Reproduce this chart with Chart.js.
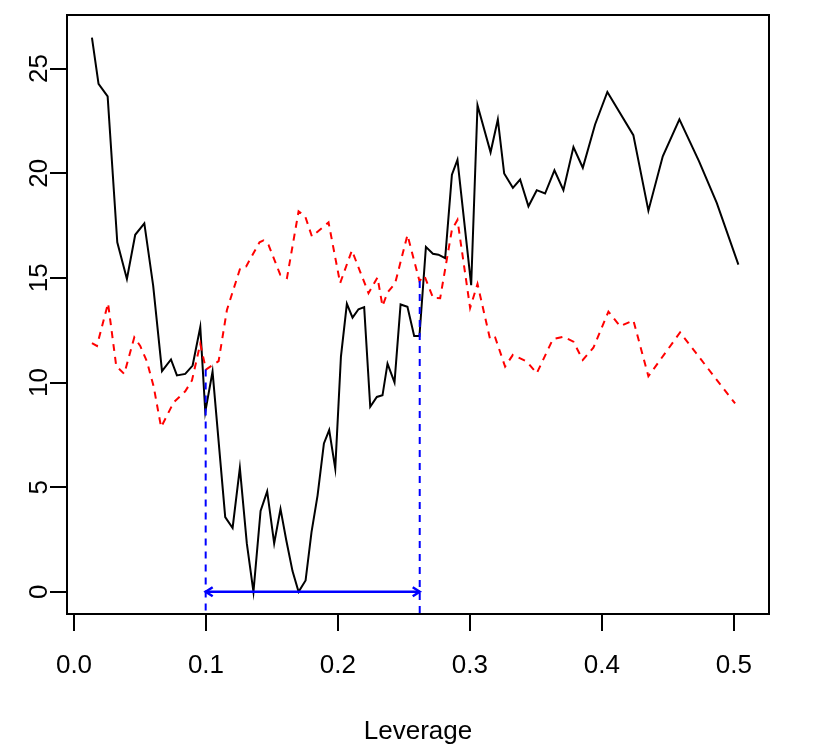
<!DOCTYPE html>
<html>
<head>
<meta charset="utf-8">
<script src="https://cdn.jsdelivr.net/npm/chart.js@4.4.0/dist/chart.umd.min.js"></script>
<style>
  html, body { margin: 0; padding: 0; background: #fff; }
  #myChart { display: block; }
</style>
</head>
<body>
<canvas id="myChart" width="830" height="747"></canvas>
<script>
// values
const blackX = [0.0136, 0.0186, 0.0255, 0.0328, 0.0401, 0.0464, 0.0533, 0.0600, 0.0667, 0.0735,
  0.0780, 0.0843, 0.0899, 0.0957, 0.0995, 0.1050, 0.1146, 0.1202, 0.1257, 0.1310,
  0.1360, 0.1414, 0.1464, 0.1517, 0.1565, 0.1608, 0.1656, 0.1702, 0.1755, 0.1800,
  0.1846, 0.1894, 0.1934, 0.1980, 0.2023, 0.2068, 0.2111, 0.2156, 0.2199, 0.2245,
  0.2295, 0.2338, 0.2376, 0.2429, 0.2475, 0.2527, 0.2578, 0.2618, 0.2667, 0.2720,
  0.2762, 0.2813, 0.2864, 0.2906, 0.3010, 0.3058, 0.3157, 0.3212, 0.3260, 0.3326,
  0.3381, 0.3444, 0.3507, 0.3570, 0.3641, 0.3709, 0.3785, 0.3856, 0.3949, 0.4042,
  0.4239, 0.4353, 0.4462, 0.4588, 0.4737, 0.4871, 0.5035];
const blackY = [26.48, 24.27, 23.67, 16.70, 14.95, 17.06, 17.60, 14.63, 10.54, 11.10,
  10.34, 10.41, 10.81, 12.65, 8.60, 10.52, 3.57, 3.05, 5.92, 2.30,
  0.00, 3.86, 4.80, 2.31, 3.96, 2.49, 0.99, 0.00, 0.54, 2.85,
  4.61, 7.09, 7.73, 5.89, 11.24, 13.76, 13.10, 13.50, 13.60, 8.84,
  9.31, 9.39, 10.90, 10.01, 13.73, 13.62, 12.22, 12.22, 16.48, 16.15,
  16.11, 15.94, 19.93, 20.64, 14.65, 23.25, 21.00, 22.57, 19.99, 19.30,
  19.70, 18.42, 19.19, 19.03, 20.14, 19.19, 21.25, 20.26, 22.33, 23.88,
  21.82, 18.21, 20.81, 22.57, 20.57, 18.58, 15.63];

const redX = [0.0136, 0.0174, 0.0258, 0.0320, 0.0381, 0.0457, 0.0502, 0.0553, 0.0604, 0.0660,
  0.0755, 0.0843, 0.0894, 0.0957, 0.1000, 0.1096, 0.1159, 0.1260, 0.1305, 0.1406,
  0.1436, 0.1474, 0.1563, 0.1614, 0.1702, 0.1752, 0.1803, 0.1929, 0.2017, 0.2106,
  0.2232, 0.2300, 0.2338, 0.2376, 0.2434, 0.2527, 0.2618, 0.2655, 0.2722, 0.2775,
  0.2864, 0.2906, 0.3002, 0.3058, 0.3154, 0.3192, 0.3267, 0.3326, 0.3432, 0.3507,
  0.3629, 0.3709, 0.3785, 0.3856, 0.3936, 0.4050, 0.4139, 0.4239, 0.4353, 0.4593,
  0.5010];
const redY = [11.88, 11.75, 13.79, 10.79, 10.41, 12.16, 11.75, 11.00, 9.80, 7.87,
  9.05, 9.58, 10.10, 11.85, 10.62, 11.02, 13.47, 15.47, 15.55, 16.70,
  16.79, 16.58, 15.15, 14.99, 18.18, 17.94, 16.98, 17.65, 14.75, 16.31,
  14.27, 15.02, 13.65, 14.30, 14.75, 17.05, 14.85, 15.10, 14.04, 14.03,
  17.30, 17.77, 13.56, 14.71, 12.05, 12.15, 10.76, 11.32, 11.00, 10.44,
  12.07, 12.19, 11.95, 11.08, 11.66, 13.39, 12.69, 12.97, 10.30, 12.39,
  9.00];

const bracketX = [0.0998, 0.262];
const bracketTop = [10.62, 14.85];

const xTicks = [0, 0.1, 0.2, 0.3, 0.4, 0.5];
const yTicks = [0, 5, 10, 15, 20, 25];

const xMin = -0.0053, xMax = 0.5267;
const yMin = -1.06, yMax = 27.56;

const FONT = '"Liberation Sans", Arial, Helvetica, sans-serif';

function toPoints(xs, ys) {
  return xs.map((x, i) => ({ x: x, y: ys[i] }));
}

// R style box, rotated y labels and arrow heads
const rStyle = {
  id: 'rStyle',
  afterDatasetsDraw(chart) {
    const ctx = chart.ctx;
    const a = chart.chartArea;
    const xs = chart.scales.x, ys = chart.scales.y;
    ctx.save();
    ctx.strokeStyle = '#000';
    ctx.lineWidth = 2;
    ctx.strokeRect(a.left, a.top, a.right - a.left, a.bottom - a.top);

    // arrow heads
    const y0 = ys.getPixelForValue(0);
    const xl = xs.getPixelForValue(bracketX[0]);
    const xr = xs.getPixelForValue(bracketX[1]);
    ctx.strokeStyle = '#0000ff';
    ctx.lineWidth = 2.5;
    ctx.beginPath();
    ctx.moveTo(xl + 7, y0 - 4.5); ctx.lineTo(xl, y0); ctx.lineTo(xl + 7, y0 + 4.5);
    ctx.moveTo(xr - 7, y0 - 4.5); ctx.lineTo(xr, y0); ctx.lineTo(xr - 7, y0 + 4.5);
    ctx.stroke();

    // y labels, rotated like R
    ctx.fillStyle = '#000';
    ctx.font = '26px ' + FONT;
    ctx.textAlign = 'center';
    ctx.textBaseline = 'middle';
    yTicks.forEach(v => {
      const py = ys.getPixelForValue(v);
      ctx.save();
      ctx.translate(40, py);
      ctx.rotate(-Math.PI / 2);
      ctx.fillText(String(v), 0, 0);
      ctx.restore();
    });
    ctx.restore();
  }
};

const ctx = document.querySelector('#myChart');
new Chart(ctx, {
  type: 'line',
  data: {
    datasets: [
      {
        data: toPoints(blackX, blackY),
        borderColor: '#000000',
        borderWidth: 2,
        pointRadius: 0,
        order: 3
      },
      {
        data: toPoints(redX, redY),
        borderColor: '#ff0000',
        borderWidth: 2,
        borderDash: [7, 6],
        pointRadius: 0,
        order: 2
      },
      {
        data: [{ x: bracketX[0], y: bracketTop[0] }, { x: bracketX[0], y: yMin }],
        borderColor: '#0000ff',
        borderWidth: 2,
        borderDash: [7, 6],
        pointRadius: 0,
        order: 1
      },
      {
        data: [{ x: bracketX[1], y: bracketTop[1] }, { x: bracketX[1], y: yMin }],
        borderColor: '#0000ff',
        borderWidth: 2,
        borderDash: [7, 6],
        pointRadius: 0,
        order: 1
      },
      {
        data: [{ x: bracketX[0], y: 0 }, { x: bracketX[1], y: 0 }],
        borderColor: '#0000ff',
        borderWidth: 2.5,
        pointRadius: 0,
        order: 0
      }
    ]
  },
  options: {
    responsive: false,
    animation: false,
    layout: { padding: { top: 15, right: 61, left: 0, bottom: 0 } },
    plugins: { legend: { display: false }, tooltip: { enabled: false } },
    scales: {
      x: {
        type: 'linear',
        min: xMin,
        max: xMax,
        afterBuildTicks: s => { s.ticks = xTicks.map(v => ({ value: v })); },
        afterFit: s => { s.height = 133; },
        grid: { drawOnChartArea: false, drawTicks: true, tickLength: 17, color: '#000', lineWidth: 2 },
        border: { display: false },
        ticks: {
          color: '#000',
          font: { family: FONT, size: 26 },
          padding: 19,
          maxRotation: 0,
          callback: v => Number(v).toFixed(1)
        },
        title: {
          display: true,
          text: 'Leverage',
          color: '#000',
          font: { family: FONT, size: 26 },
          padding: 0
        }
      },
      y: {
        type: 'linear',
        min: yMin,
        max: yMax,
        afterBuildTicks: s => { s.ticks = yTicks.map(v => ({ value: v })); },
        afterFit: s => { s.width = 67; },
        grid: { drawOnChartArea: false, drawTicks: true, tickLength: 17, color: '#000', lineWidth: 2 },
        border: { display: false },
        ticks: { display: false }
      }
    }
  },
  plugins: [rStyle]
});
</script>
</body>
</html>
